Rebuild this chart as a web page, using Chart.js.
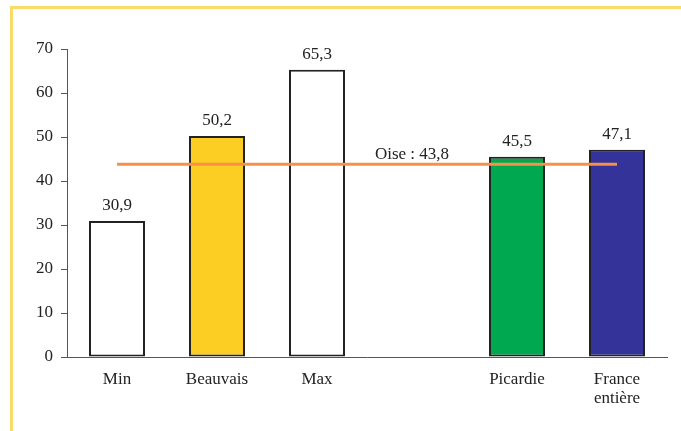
<!DOCTYPE html>
<html><head><meta charset="utf-8">
<script src="https://cdn.jsdelivr.net/npm/chart.js@4"></script>
<style>
html,body{margin:0;padding:0;background:#fff;}
#wrap{position:relative;width:681px;height:431px;}
#frame{position:absolute;left:10px;top:6px;right:0;bottom:0;border-top:3px solid #F8DC6A;border-left:3px solid #F8DC6A;pointer-events:none;}
canvas{position:absolute;left:0;top:0;}
</style></head>
<body><div id="wrap"><canvas id="c" width="681" height="431"></canvas><div id="frame"></div></div>
<script>
const categories = ["Min", "Beauvais", "Max", "", "Picardie", ["France", "entière"]];
const values = [30.9, 50.2, 65.3, null, 45.5, 47.1];
const barColors = ["#FFFFFF", "#FCCD22", "#FFFFFF", "#FFFFFF", "#00A94F", "#333399"];
const oiseValue = 43.8;
const oiseLabel = "Oise : 43,8";
const yTicks = [0, 10, 20, 30, 40, 50, 60, 70];

const fmt = v => v.toFixed(1).replace('.', ',');
const FONT = "'Liberation Serif', 'Times New Roman', serif";
const FS = 17;

const labelPlugin = {
  id: 'labels',
  afterDatasetsDraw(chart) {
    const ctx = chart.ctx;
    const meta = chart.getDatasetMeta(0);
    ctx.save();
    ctx.fillStyle = '#222';
    ctx.font = FS + 'px ' + FONT;
    ctx.textAlign = 'center';
    ctx.textBaseline = 'alphabetic';
    meta.data.forEach((bar, i) => {
      if (values[i] == null) return;
      ctx.fillText(fmt(values[i]), bar.x, bar.y - 11);
    });
    const xs = chart.scales.x, ys = chart.scales.y;
    ctx.fillText(oiseLabel, xs.getPixelForValue(3) - 5, ys.getPixelForValue(oiseValue) - 5);
    ctx.restore();
  }
};

new Chart(document.getElementById('c'), {
  data: {
    labels: categories,
    datasets: [
      {
        type: 'bar',
        data: values,
        backgroundColor: barColors,
        borderColor: '#222',
        borderWidth: 2,
        borderSkipped: false,
        categoryPercentage: 1,
        barPercentage: 0.56,
        order: 2
      },
      {
        type: 'line',
        data: categories.map(() => oiseValue),
        borderColor: '#F7904A',
        borderWidth: 3,
        pointRadius: 0,
        fill: false,
        order: 1
      }
    ]
  },
  options: {
    responsive: false,
    animation: false,
    devicePixelRatio: 1,
    layout: { padding: { top: 49, right: 14, left: 0, bottom: 0 } },
    plugins: { legend: { display: false }, tooltip: { enabled: false } },
    scales: {
      x: {
        grid: { display: false, drawTicks: false },
        border: { display: true, color: '#555', width: 1 },
        ticks: { color: '#222', font: { family: FONT, size: FS, lineHeight: 1.1 }, padding: 13, maxRotation: 0, autoSkip: false },
        afterFit(s) { s.height = 74; }
      },
      y: {
        min: 0, max: 70,
        afterBuildTicks(s) { s.ticks = yTicks.map(v => ({ value: v })); },
        grid: { drawOnChartArea: false, drawTicks: true, tickLength: 6, color: '#555' },
        border: { display: true, color: '#555', width: 1 },
        ticks: { color: '#222', font: { family: FONT, size: FS }, padding: 8 },
        afterFit(s) { s.width = 67; }
      }
    }
  },
  plugins: [labelPlugin]
});
</script></body></html>
